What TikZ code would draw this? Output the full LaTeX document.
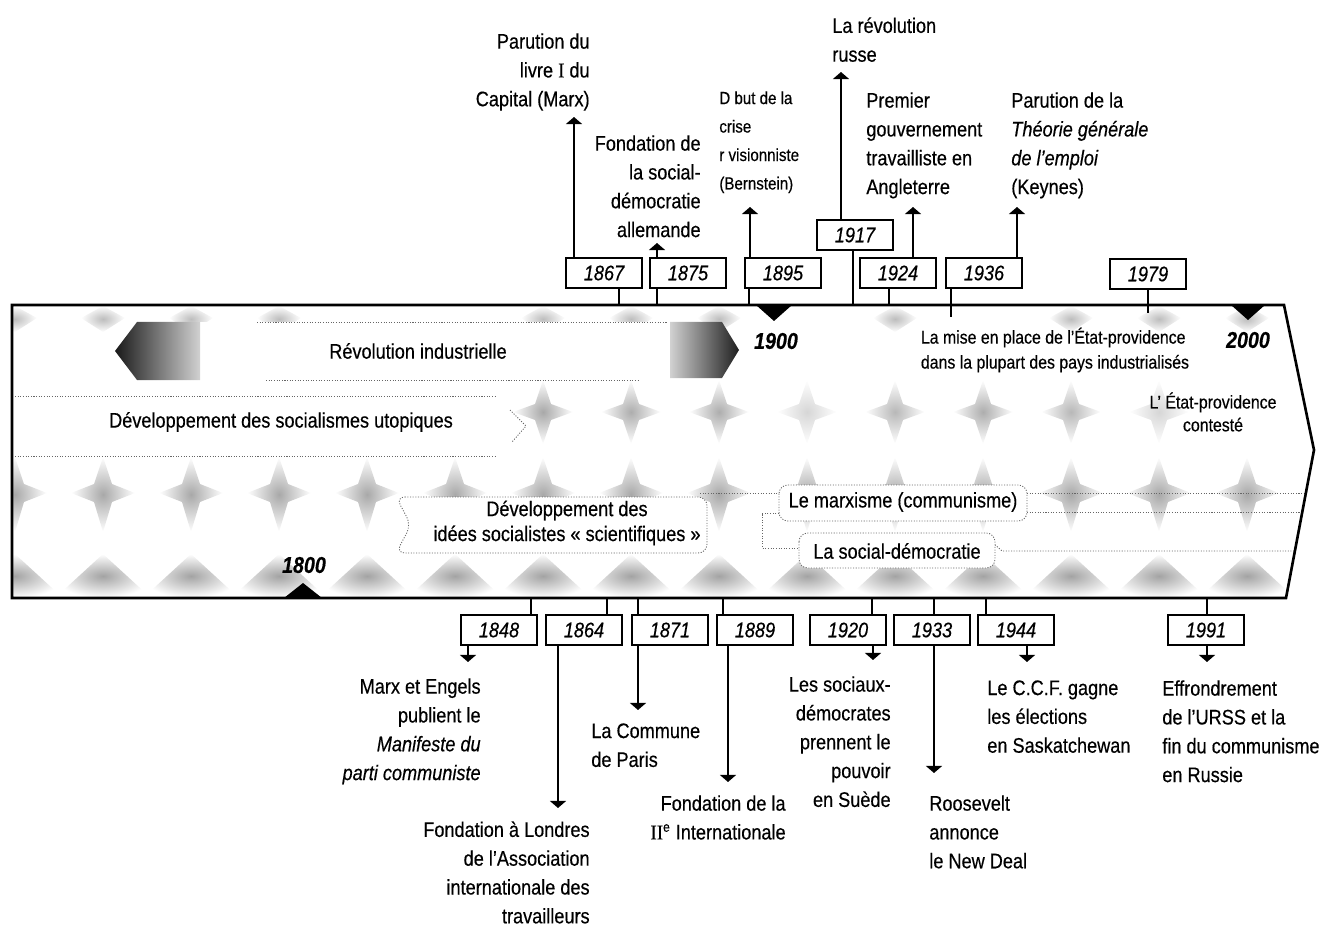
\documentclass[tikz,border=0pt]{standalone}
\usepackage{fontspec}
\setmainfont{Liberation Sans}[FakeStretch=0.86,FakeBold=0.4]
\newfontfamily\romain{Liberation Serif}[FakeStretch=0.9,FakeBold=0.4]
\usetikzlibrary{arrows.meta}

\begin{document}
\begin{tikzpicture}[x=0.02cm,y=-0.02cm,
			evt/.style={-{Triangle[width=9pt,length=4pt]},line width=1.1pt},
			tick/.style={line width=1.1pt},
			datebox/.style={draw,line width=1.1pt,fill=white,minimum width=43pt,minimum height=17.5pt,inner sep=0pt,font=\fontsize{12}{14}\selectfont\itshape},
			lbl/.style={inner sep=0pt,font=\fontsize{12}{16.4}\selectfont},
			lblR/.style={lbl,align=right,anchor=north east},
			lblL/.style={lbl,align=left,anchor=north west},
			zone/.style={draw=black!60,dash pattern=on 0.6pt off 0.9pt,line width=0.5pt},
			siecle/.style={inner sep=0pt,font=\fontsize{13}{13}\selectfont\bfseries\itshape},
			]
			\useasboundingbox (0,0) rectangle (1319,929);
			
			% la bande
			\def\bande{(12,305) -- (1284,305) -- (1314,450) -- (1286,598) -- (12,598) -- cycle}
			
			% trame grise
			\begin{scope}
				\clip \bande;
				\foreach \x in {15,103,191,279,367,455,543,631,719,807,895,983,1071,1159,1247} {
					\shade[inner color=black!36,outer color=white] (\x-48,598) -- (\x,554) -- (\x+48,598) -- cycle;
					\shade[inner color=black!34,outer color=white] (\x-32,493) -- (\x-9,484) -- (\x,457) -- (\x+9,484) -- (\x+32,493) -- (\x+9,502) -- (\x,532) -- (\x-9,502) -- cycle;
				}
				\foreach \x/\c in {543/34,631/32,719/32,807/16,895/28,983/32,1071/28,1159/16} {
					\shade[inner color=black!\c,outer color=white] (\x-30,412) -- (\x-8,404) -- (\x,380) -- (\x+8,404) -- (\x+30,412) -- (\x+8,420) -- (\x,444) -- (\x-8,420) -- cycle;
				}
				\foreach \x in {15,103,191,279,543,631,719,895,1071,1159,1247} {
					\shade[inner color=black!26,outer color=white] (\x-22,318) -- (\x,306) -- (\x+22,318) -- (\x,332) -- cycle;
				}
				% zones blanches
				\fill[white] (200,322) rectangle (670,380);
				\fill[white] (13,396) -- (497,396) -- (526,426) -- (497,456) -- (13,456) -- cycle;
				\draw[zone] (15,396) -- (497,396) (15,456) -- (497,456);
				\draw[zone] (510,410) -- (526,426) -- (512,442);
				\draw[zone] (257,322) -- (668,322) (266,380) -- (640,380);
				\draw[zone] (1027,493) -- (1320,493) (1027,512) -- (1320,512);
				\draw[zone] (993,543) -- (1002,551) -- (1320,551);
				\draw[zone] (700,493) -- (779,493);
				\draw[zone] (779,513) -- (762,513) -- (762,548) -- (799,548);
				\fill[white,rounded corners=5] (396,497) -- (707,497) -- (707,553) -- (396,553) -- (411,525) -- cycle;
				\draw[zone,rounded corners=5] (396,497) -- (707,497) -- (707,553) -- (396,553) -- (411,525) -- cycle;
				\filldraw[zone,fill=white,rounded corners=5] (779,485) rectangle (1027,521);
				\filldraw[zone,fill=white,rounded corners=5] (799,533) rectangle (995,568);
			\end{scope}
			
			% flèches dégradées
			\shade[left color=black!90,right color=black!18] (115,351) -- (137,322) -- (200,322) -- (200,380) -- (137,380) -- cycle;
			\shade[left color=black!18,right color=black!88] (670,322) -- (722,322) -- (739,350) -- (722,378) -- (670,378) -- cycle;
			
			% contour
			\draw[line width=1.5pt,line join=miter] \bande;
			
			% repères des siècles
			\fill (756,305) -- (792,305) -- (774,321) -- cycle;
			\fill (1231,305) -- (1265,305) -- (1248,320) -- cycle;
			\fill (284,598) -- (322,598) -- (303,583) -- cycle;
			\node[siecle] (s1900) at (776,341) {1900};
			\node[siecle] (s2000) at (1248,340) {2000};
			\node[siecle] (s1800) at (304,565) {1800};
			
			% textes de la bande
			\node[lbl] (revind) at (418,351) {Révolution industrielle};
			\node[lbl] (utop) at (281,422) {Développement des socialismes utopiques};
			\node[lbl,align=center,font=\fontsize{12}{14.2}\selectfont] (scient) at (567,523) {Développement des\\idées socialistes « scientifiques »};
			\node[lbl] (marx) at (903,502) {Le marxisme (communisme)};
			\node[lbl] (socdem) at (897,551) {La social-démocratie};
			\node[lbl,align=left,font=\fontsize{10.5}{14.2}\selectfont] (etatp) at (1055,350) {La mise en place de l’État-providence\\dans la plupart des pays industrialisés};
			\node[lbl,align=center,font=\fontsize{10.5}{13}\selectfont] (contest) at (1213,412) {L’ État-providence\\contesté};
			
			% dates du haut
			\node[datebox] (b1867) at (604,273) {1867};
			\node[datebox] (b1875) at (688,273) {1875};
			\node[datebox] (b1895) at (783,273) {1895};
			\node[datebox] (b1917) at (855,235) {1917};
			\node[datebox] (b1924) at (898,273) {1924};
			\node[datebox] (b1936) at (984,273) {1936};
			\node[datebox] (b1979) at (1148,274) {1979};
			\foreach \n/\x/\y in {1867/619/305,1875/657/305,1895/749/305,1917/853/305,1924/889/305,1936/951/317,1979/1148/313} {
				\coordinate (k\n) at (\x,\y);
				\draw[tick] (b\n.south -| k\n) -- (k\n);
			}
			\foreach \n/\x/\y in {1867/574/117,1875/657/243,1895/750/207,1917/841/72,1924/913/207,1936/1017/207} {
				\coordinate (t\n) at (\x,\y);
				\draw[evt] (b\n.north -| t\n) -- (t\n);
			}
			\node[lblR] (l1867) at (590,33) {Parution du\\livre {\romain I} du\\Capital (Marx)};
			\node[lblR] (l1875) at (701,135) {Fondation de\\la social-\\démocratie\\allemande};
			\node[lblL,font=\fontsize{10}{16.2}\selectfont] (l1895) at (719,91) {D but de la\\crise\\r visionniste\\(Bernstein)};
			\node[lblL] (l1917) at (832,17) {La révolution\\russe};
			\node[lblL] (l1924) at (866,92) {Premier\\gouvernement\\travailliste en\\Angleterre};
			\node[lblL] (l1936) at (1011,92) {Parution de la\\\textit{Théorie générale}\\\textit{de l’emploi}\\(Keynes)};
			
			% dates du bas
			\node[datebox] (b1848) at (499,630) {1848};
			\node[datebox] (b1864) at (584,630) {1864};
			\node[datebox] (b1871) at (670,630) {1871};
			\node[datebox] (b1889) at (755,630) {1889};
			\node[datebox] (b1920) at (848,630) {1920};
			\node[datebox] (b1933) at (932,630) {1933};
			\node[datebox] (b1944) at (1016,630) {1944};
			\node[datebox] (b1991) at (1206,630) {1991};
			\foreach \n/\x in {1848/531,1864/607,1871/638,1889/723,1920/872,1933/934,1944/986,1991/1207} {
				\coordinate (k\n) at (\x,598);
				\draw[tick] (b\n.north -| k\n) -- (k\n);
			}
			\foreach \n/\x/\y in {1848/468/662,1864/558/808,1871/638/710,1889/728/782,1920/873/660,1933/934/773,1944/1027/662,1991/1207/662} {
				\coordinate (t\n) at (\x,\y);
				\draw[evt] (b\n.south -| t\n) -- (t\n);
			}
			\node[lblR] (l1848) at (481,678) {Marx et Engels\\publient le\\\textit{Manifeste du}\\\textit{parti communiste}};
			\node[lblR] (l1864) at (590,821) {Fondation à Londres\\de l’Association\\internationale des\\travailleurs};
			\node[lblL] (l1871) at (591,723) {La Commune\\de Paris};
			\node[lblR] (l1889) at (786,795) {Fondation de la\\{\romain II}\textsuperscript{e} Internationale};
			\node[lblR] (l1920) at (891,676) {Les sociaux-\\démocrates\\prennent le\\pouvoir\\en Suède};
			\node[lblL] (l1933) at (929,795) {Roosevelt\\annonce\\le New Deal};
			\node[lblL] (l1944) at (987,680) {Le C.C.F. gagne\\les élections\\en Saskatchewan};
			\node[lblL] (l1991) at (1162,680) {Effrondrement\\de l’URSS et la\\fin du communisme\\en Russie};
		\end{tikzpicture}
\end{document}
